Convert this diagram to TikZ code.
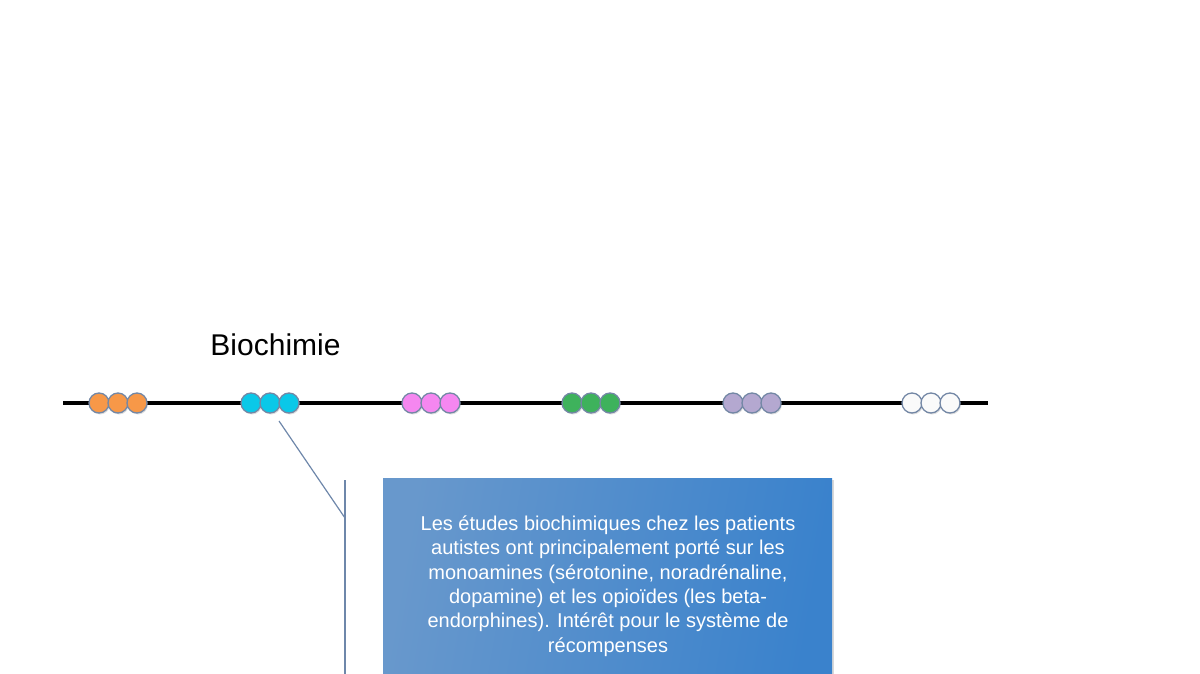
\documentclass[tikz,border=0pt]{standalone}
\usepackage{fontspec}
\setmainfont{Liberation Sans}
\usetikzlibrary{shadows}
\definecolor{cOrange}{RGB}{247,152,72}
\definecolor{cCyan}{RGB}{10,200,232}
\definecolor{cPink}{RGB}{245,135,240}
\definecolor{cGreen}{RGB}{62,178,92}
\definecolor{cPurple}{RGB}{180,168,208}
\definecolor{cWhite}{RGB}{250,250,250}
\definecolor{cEdge}{RGB}{115,135,165}
\definecolor{cConn}{RGB}{110,135,170}
\definecolor{boxL}{RGB}{104,152,204}
\definecolor{boxR}{RGB}{58,130,204}
\tikzset{
  bead/.style={circle,draw=cEdge,line width=1.3pt,minimum size=20pt,inner sep=0pt,
    drop shadow={shadow xshift=1pt,shadow yshift=-1.5pt,opacity=0.25}},
  conn/.style={draw=cConn,line width=1.2pt},
  infobox/.style={draw=none,left color=boxL,right color=boxR,shading angle=80,
    minimum width=449pt,minimum height=210pt,anchor=north west,inner sep=0pt,
    drop shadow={shadow xshift=2pt,shadow yshift=-2pt,opacity=0.3}},
}
\begin{document}
\begin{tikzpicture}[x=1pt,y=-1pt]
\useasboundingbox (0,0) rectangle (1200,674);
\clip (0,0) rectangle (1200,674);
\node[font=\fontsize{30}{34}\selectfont] (title) at (275.5,345) {Biochimie};
\draw[line width=4pt,black] (63,403) coordinate (lstart) -- (988,403) coordinate (lend);
\foreach \c/\x/\n in {cOrange/99/o,cCyan/251/c,cPink/412/p,cGreen/572/g,cPurple/733/u,cWhite/912/w}{
  \node[bead,fill=\c] (\n1) at (\x,403) {};
  \node[bead,fill=\c] (\n2) at (\x+19,403) {};
  \node[bead,fill=\c] (\n3) at (\x+38,403) {};
}
\node[infobox] (info) at (383,478) {};
\node[text=white,align=center,font=\fontsize{20}{24.4}\selectfont,anchor=north] (infotext) at (608,512)
 {Les études biochimiques chez les patients\\
  autistes ont principalement porté sur les\\
  monoamines (sérotonine, noradrénaline,\\
  dopamine) et les opioïdes (les beta-\\
  endorphines). Intérêt pour le système de\\
  récompenses};
\coordinate (cstart) at (279,421);
\coordinate (elbow) at (345,518);
\coordinate (vtop) at (345,480);
\coordinate (vbot) at (345,680);
\draw[conn] (cstart) -- (elbow);
\draw[conn] (vtop) -- (vbot);
\end{tikzpicture}
\end{document}
